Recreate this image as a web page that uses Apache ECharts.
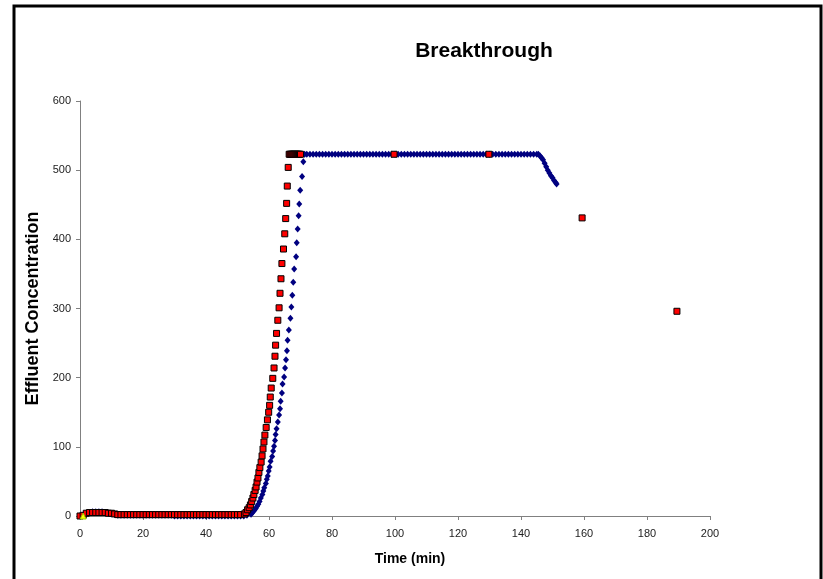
<!DOCTYPE html>
<html>
<head>
<meta charset="utf-8">
<script src="https://cdn.jsdelivr.net/npm/echarts@6/dist/echarts.min.js"></script>
<style>
html,body{margin:0;padding:0;background:#fff;}
#main{width:823px;height:579px;}
</style>
</head>
<body>
<div id="main"></div>
<script>
// measured series (time in min, concentration)
var redTime = [0,1,2,3,4,5,6,7,8,9,10,11,12,13,14,15,16,17,18,19,20,21,22,23,24,25,26,27,28,29,30,31,32,33,34,35,36,37,38,39,40,41,42,43,44,45,46,47,48,49,50,51,
	52.2,52.7,53.2,53.7,54.1,54.5,54.9,55.2,55.6,55.9,56.2,56.5,56.8,57.1,57.5,57.8,58.1,58.4,58.7,59.1,59.5,59.9,60.2,60.4,60.7,61.2,61.6,61.9,62.1,62.4,62.8,63.2,63.5,63.8,64.1,64.6,65.0,65.3,65.6,65.8,66.1,
	66.4,66.7,67.0,67.3,67.6,67.9,68.2,68.5,68.8,69.1,69.4,69.7,70.0,
	99.7,129.8,159.4,189.5];
var redConc = [0,1,4,5,5,5,5,5,5,4,4,3,2,2,2,2,2,2,2,2,2,2,2,2,2,2,2,2,2,2,2,2,2,2,2,2,2,2,2,2,2,2,2,2,2,2,2,2,2,2,2,2,
	3,5,9,12,16,21,26,31,37,42,49,55,63,70,78,87,97,107,117,128,139,150,160,172,185,199,214,231,247,264,283,301,322,343,365,386,408,430,452,477,504,
	523,523,523,523,523,523,523,523,523,523,523,523,523,
	523,523,431,296];

var blueTime = [0,1,2,3,4,5,6,7,8,9,10,11,12,13,14,15,16,17,18,19,20,21,22,23,24,25,26,27,28,29,30,31,32,33,34,35,36,37,38,39,40,41,42,43,44,45,46,47,48,49,50,51,52,53,
	54.3,54.8,55.3,55.8,56.2,56.6,57.0,57.4,57.9,58.2,58.5,59.0,59.3,59.6,59.9,60.2,60.5,61.0,61.3,61.6,61.9,62.1,62.4,62.8,63.2,63.5,63.7,64.1,64.3,64.8,65.1,65.4,65.7,65.9,66.3,66.8,67.1,67.4,67.7,68.0,68.6,68.8,69.1,69.4,69.6,69.9,70.5,70.9,
	71.3,72,73,74,75,76,77,78,79,80,81,82,83,84,85,86,87,88,89,90,91,92,93,94,95,96,97,98,99,100,101,102,103,104,105,106,107,108,109,110,111,112,113,114,115,116,117,118,119,120,121,122,123,124,125,126,127,128,129,130,131,132,133,134,135,136,137,138,139,140,141,142,143,144,145,
	145.5,146,146.5,147,147.5,148,148.5,149,149.5,150,150.5,151,151.3];
var blueConc = [0,1,3,5,6,6,6,6,5,4,3,2,1,1,1,1,1,1,1,1,1,1,1,1,1,1,1,1,1,1,0,0,0,0,0,0,0,0,0,0,0,0,0,0,0,0,0,0,0,0,0,0,0,1,
	2.5,5,8,11,14,17,21,26,31,36,41,47,53,58,65,71,79,86,94,101,109,118,126,136,146,155,166,178,191,201,214,226,239,254,269,286,302,319,338,357,375,395,415,434,451,471,491,512,
	523,523,523,523,523,523,523,523,523,523,523,523,523,523,523,523,523,523,523,523,523,523,523,523,523,523,523,523,523,523,523,523,523,523,523,523,523,523,523,523,523,523,523,523,523,523,523,523,523,523,523,523,523,523,523,523,523,523,523,523,523,523,523,523,523,523,523,523,523,523,523,523,523,523,523,
	523,521,518,515,510,505,500,496,492,489,485,482,480];

var yellowTime = [1];
var yellowConc = [0];

var xTicks = [0,20,40,60,80,100,120,140,160,180,200];
var yTicks = [0,100,200,300,400,500,600];

function pairs(t, c){
	var out = [];
	var n = Math.min(t.length, c.length);
	for (var i = 0; i < n; i++) out.push([t[i], c[i]]);
	return out;
}

var myChart = echarts.init(document.getElementById('main'));

var labelFont = {fontFamily: 'Liberation Sans, Arial', fontSize: 11, color: '#222'};

myChart.setOption({
	animation: false,
	backgroundColor: '#fff',
	title: {
		text: 'Breakthrough',
		left: 479,
		top: 36,
		textAlign: 'center',
		textStyle: {fontFamily: 'Liberation Sans, Arial', fontSize: 21, fontWeight: 'bold', color: '#000'}
	},
	graphic: [{
		type: 'rect',
		shape: {x: 14, y: 6, width: 807, height: 700},
		style: {fill: 'none', stroke: '#000', lineWidth: 3},
		silent: true
	}],
	grid: {left: 80, right: 113, top: 101, bottom: 63},
	xAxis: {
		type: 'value',
		min: xTicks[0],
		max: xTicks[xTicks.length - 1],
		interval: 20,
		name: 'Time (min)',
		nameLocation: 'middle',
		nameGap: 36,
		nameTextStyle: {fontFamily: 'Liberation Sans, Arial', fontSize: 14, fontWeight: 'bold', color: '#000', padding: [0, 0, 0, 30]},
		axisLine: {lineStyle: {color: '#808080', width: 1}},
		axisTick: {inside: false, length: 4, lineStyle: {color: '#808080'}},
		axisLabel: Object.assign({margin: 12}, labelFont),
		splitLine: {show: false}
	},
	yAxis: {
		type: 'value',
		min: yTicks[0],
		max: yTicks[yTicks.length - 1],
		interval: 100,
		name: 'Effluent Concentration',
		nameLocation: 'middle',
		nameGap: 38,
		nameTextStyle: {fontFamily: 'Liberation Sans, Arial', fontSize: 18, fontWeight: 'bold', color: '#000'},
		axisLine: {show: true, lineStyle: {color: '#808080', width: 1}},
		axisTick: {show: true, inside: false, length: 4, lineStyle: {color: '#808080'}},
		axisLabel: Object.assign({margin: 9}, labelFont),
		splitLine: {show: false}
	},
	series: [{
		name: 'blue',
		type: 'scatter',
		symbol: 'diamond',
		symbolSize: [6, 7],
		data: pairs(blueTime, blueConc),
		itemStyle: {color: '#000080', opacity: 1}
	}, {
		name: 'red',
		type: 'scatter',
		symbol: 'rect',
		symbolSize: 6,
		data: pairs(redTime, redConc),
		itemStyle: {color: '#ff0000', borderColor: '#000', borderWidth: 1, opacity: 1}
	}, {
		name: 'yellow',
		type: 'scatter',
		symbol: 'triangle',
		symbolSize: 6,
		data: pairs(yellowTime, yellowConc),
		itemStyle: {color: '#ffff00', borderColor: '#99cc00', borderWidth: 1, opacity: 1}
	}]
});
</script>
</body>
</html>
